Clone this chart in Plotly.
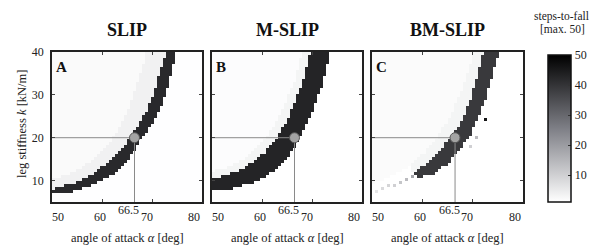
import numpy as np
import plotly.graph_objects as go

# ---------------- data ----------------
panel_titles = ["SLIP", "M-SLIP", "BM-SLIP"]
panel_letters = ["A", "B", "C"]
x_tick_vals = [50, 60, 70, 80]
y_tick_vals = [10, 20, 30, 40]
cbar_tick_vals = [10, 20, 30, 40, 50]
alpha_ref = 66.5   # deg
k_ref = 20.0       # kN/m

# grid of the steps-to-fall map
alpha_centers = np.arange(50.3, 80.0, 0.6)
k_centers = np.arange(5.35, 40.0, 0.7)

# band of 50 steps (upper-left edge and lower-right edge), (alpha, k)
slip_upper_alpha = [49.0, 50.0, 54.3, 58.3, 61.9, 63.9, 65.6, 67.6, 69.3, 70.3, 71.5, 72.8, 73.1]
slip_upper_k = [7.8, 8.0, 9.4, 11.7, 14.8, 17.1, 20.0, 23.4, 27.2, 30.4, 35.0, 40.0, 41.0]
slip_lower_alpha = [49.0, 50.0, 54.3, 58.9, 62.9, 65.3, 66.6, 67.9, 70.3, 71.7, 72.9, 73.9, 74.9, 75.2]
slip_lower_k = [6.7, 6.9, 7.4, 9.4, 11.7, 14.8, 17.1, 20.0, 23.4, 27.2, 30.4, 35.0, 40.0, 41.0]
slip_halo_alpha = [49.0, 54.0, 58.0, 61.0, 63.5, 65.5, 67.0, 68.3, 69.0]
slip_halo_k = [10.0, 11.8, 14.5, 18.0, 22.5, 27.5, 32.5, 37.0, 41.0]

mslip_upper_alpha = [49.0, 50.0, 53.0, 56.3, 60.7, 63.1, 65.2, 67.9, 69.7, 70.0]
mslip_upper_k = [10.0, 10.2, 11.3, 12.8, 16.7, 20.2, 24.4, 32.2, 40.0, 41.0]
mslip_lower_alpha = [49.0, 50.0, 54.0, 58.7, 63.3, 66.0, 67.5, 69.5, 72.0, 73.7, 74.0]
mslip_lower_k = [7.5, 7.7, 8.1, 9.7, 12.8, 16.7, 20.2, 24.4, 32.2, 40.0, 41.0]
mslip_halo_alpha = [49.0, 53.0, 56.0, 59.5, 62.0, 64.2, 66.5, 68.2]
mslip_halo_k = [11.8, 13.0, 14.8, 18.2, 22.0, 27.0, 33.0, 41.0]

bmslip_upper_alpha = [58.0, 60.7, 63.3, 65.7, 68.0, 69.3, 70.3, 72.0, 72.2]
bmslip_upper_k = [11.8, 13.6, 16.7, 20.2, 24.4, 28.3, 32.2, 40.0, 41.0]
bmslip_lower_alpha = [59.0, 62.0, 64.7, 67.0, 69.3, 71.0, 72.3, 73.3, 75.2, 75.4]
bmslip_lower_k = [10.8, 11.2, 13.6, 16.7, 20.2, 24.4, 28.3, 32.2, 40.0, 41.0]
bmslip_halo_alpha = [49.0, 53.0, 57.0, 60.5, 63.0, 65.5, 67.5, 69.5, 70.3]
bmslip_halo_k = [9.0, 10.5, 13.0, 16.5, 20.0, 25.0, 30.5, 37.0, 41.0]
# BM-SLIP: light tail of the band and isolated cells
bmslip_tail_alpha = [51.0, 52.2, 53.4, 54.6, 55.8, 57.0, 58.2]
bmslip_tail_k = [7.5, 8.0, 8.6, 9.2, 9.7, 10.3, 10.9]
bmslip_tail_steps = [6, 8, 9, 10, 12, 14, 18]
bmslip_dot_alpha = [72.5, 70.7, 69.3]
bmslip_dot_k = [24.2, 20.2, 18.0]
bmslip_dot_steps = [46, 14, 10]

# steps-to-fall levels of the regions: band, near-band halo, far left, right
slip_levels = [42, 3.6, 2.0, 1.1]
mslip_levels = [43, 3.0, 1.5, 1.0]
bmslip_levels = [39, 3.0, 1.8, 1.0]


def inside(poly_a, poly_k, A, K):
    pa = np.asarray(poly_a, float)
    pk = np.asarray(poly_k, float)
    res = np.zeros(A.shape, bool)
    n = len(pa)
    j = n - 1
    for i in range(n):
        ai, ki, aj, kj = pa[i], pk[i], pa[j], pk[j]
        cond = ((ki > K) != (kj > K))
        with np.errstate(divide="ignore", invalid="ignore"):
            xint = (aj - ai) * (K - ki) / (kj - ki) + ai
        res ^= cond & (A < xint)
        j = i
    return res


A, K = np.meshgrid(alpha_centers, k_centers)


def build_map(ua, uk, la, lk, ha, hk, levels):
    band_v, halo_v, far_v, right_v = levels
    z = np.full(A.shape, float(right_v))
    left_poly_a = list(ua) + [49.0]
    left_poly_k = list(uk) + [41.0]
    z[inside(left_poly_a, left_poly_k, A, K)] = halo_v
    far_poly_a = list(ha) + [49.0]
    far_poly_k = list(hk) + [41.0]
    z[inside(far_poly_a, far_poly_k, A, K)] = far_v
    band_a = list(ua) + list(la)[::-1]
    band_k = list(uk) + list(lk)[::-1]
    z[inside(band_a, band_k, A, K)] = band_v
    return z


def set_cells(z, pa, pk, pv):
    for a, k, v in zip(pa, pk, pv):
        i = int(np.argmin(np.abs(k_centers - k)))
        j = int(np.argmin(np.abs(alpha_centers - a)))
        z[i, j] = v


z_slip = build_map(slip_upper_alpha, slip_upper_k, slip_lower_alpha, slip_lower_k,
                   slip_halo_alpha, slip_halo_k, slip_levels)
z_mslip = build_map(mslip_upper_alpha, mslip_upper_k, mslip_lower_alpha, mslip_lower_k,
                    mslip_halo_alpha, mslip_halo_k, mslip_levels)
z_bmslip = build_map(bmslip_upper_alpha, bmslip_upper_k, bmslip_lower_alpha, bmslip_lower_k,
                     bmslip_halo_alpha, bmslip_halo_k, bmslip_levels)
set_cells(z_bmslip, bmslip_tail_alpha, bmslip_tail_k, bmslip_tail_steps)
set_cells(z_bmslip, bmslip_dot_alpha, bmslip_dot_k, bmslip_dot_steps)
maps = [z_slip, z_mslip, z_bmslip]

# ---------------- figure ----------------
# the page body has an 8 px default margin, so the figure is drawn 8 px smaller
OFF = 8
W, H = 597 - OFF, 248 - OFF
ML, MR, MT, MB = 52 - OFF, 74, 52 - OFF, 46
PW = W - ML - MR
PH = H - MT - MB
FONT = "Liberation Serif"
TXT = "#222222"
colorscale = [[0.0, "#ffffff"], [0.5, "#7e7f86"], [1.0, "#000000"]]

# panel positions in window pixels
panel_px = [(52, 202), (212, 362), (372, 523)]


def px_to_paper_x(px):
    return (px - OFF - ML) / PW


def px_to_paper_y(py):
    return (MT + PH - (py - OFF)) / PH


domains = [[px_to_paper_x(a), px_to_paper_x(b)] for a, b in panel_px]

fig = go.Figure()
annotations = []
xtick_shift = {50: 5.5, 60: -2.5, 70: -5.5, 80: -8}


def label(text, x, y, xref="paper", yref="paper", size=12, **kw):
    d = dict(text=text, x=x, y=y, xref=xref, yref=yref, showarrow=False,
             xanchor="center", yanchor="middle",
             font=dict(family=FONT, size=size, color=kw.pop("color", TXT)))
    d.update(kw)
    annotations.append(d)


for n in range(3):
    sfx = "" if n == 0 else str(n + 1)
    xa, ya = "x" + sfx, "y" + sfx
    fig.add_trace(go.Heatmap(
        x=alpha_centers, y=k_centers, z=maps[n],
        colorscale=colorscale, zmin=1, zmax=50,
        showscale=(n == 2), xaxis=xa, yaxis=ya, hoverinfo="skip",
        colorbar=dict(
            x=px_to_paper_x(548), xanchor="left", xpad=0, ypad=0,
            y=0, yanchor="bottom", len=147 / PH, lenmode="fraction",
            thickness=23, thicknessmode="pixels",
            outlinewidth=1.5, outlinecolor="#111111",
            tickvals=cbar_tick_vals, ticks="inside", ticklen=3, tickcolor="#333",
            tickfont=dict(family=FONT, size=12, color=TXT),
        ) if n == 2 else None,
    ))
    fig.add_trace(go.Scatter(
        x=[x_tick_vals[0], alpha_ref, alpha_ref], y=[k_ref, k_ref, 5],
        mode="lines", line=dict(color="#8a8a8a", width=1),
        xaxis=xa, yaxis=ya, showlegend=False, hoverinfo="skip"))
    fig.add_trace(go.Scatter(
        x=[alpha_ref], y=[k_ref], mode="markers",
        marker=dict(size=10, color="#a3a3a3", line=dict(color="#555555", width=1)),
        xaxis=xa, yaxis=ya, showlegend=False, hoverinfo="skip"))

    axis_common = dict(showline=True, linecolor="#222222", linewidth=1.5, mirror="ticks",
                       ticks="inside", ticklen=3, tickcolor="#444444", showgrid=False,
                       zeroline=False)
    fig.update_layout(**{
        ("xaxis" + sfx): dict(domain=domains[n], range=[50, 80], tickvals=x_tick_vals,
                              showticklabels=False, anchor=ya, **axis_common),
        ("yaxis" + sfx): dict(domain=[0, 1], range=[5, 40], tickvals=y_tick_vals,
                              showticklabels=(n == 0), anchor=xa,
                              tickfont=dict(family=FONT, size=12, color=TXT),
                              ticklabelstandoff=4, **axis_common),
    })

    cx = (domains[n][0] + domains[n][1]) / 2
    label("<b>%s</b>" % panel_titles[n], cx, px_to_paper_y(30), size=18, color="#111")
    label("<b>%s</b>" % panel_letters[n], 0.015, 0.965, xref=xa + " domain",
          yref=ya + " domain", size=15, color="#111", xanchor="left", yanchor="top")
    for tv in x_tick_vals:
        label(str(tv), tv, px_to_paper_y(217), xref=xa, xshift=xtick_shift[tv])
    label(str(alpha_ref), alpha_ref, px_to_paper_y(210), xref=xa, xshift=-6)
    label("angle of attack <i>α</i> [deg]", cx, px_to_paper_y(238), size=12.5)

label("leg stiffness <i>k</i> [kN/m]", px_to_paper_x(22), px_to_paper_y(124),
      size=12.5, textangle=-90)
label("steps-to-fall", px_to_paper_x(561), px_to_paper_y(16), size=11.5)
label("[max. 50]", px_to_paper_x(562), px_to_paper_y(29), size=11.5)

fig.update_layout(
    width=W, height=H,
    margin=dict(l=ML, r=MR, t=MT, b=MB, autoexpand=False),
    paper_bgcolor="white", plot_bgcolor="white",
    showlegend=False, annotations=annotations,
    font=dict(family=FONT, color=TXT),
)

fig.write_html("out.html")
